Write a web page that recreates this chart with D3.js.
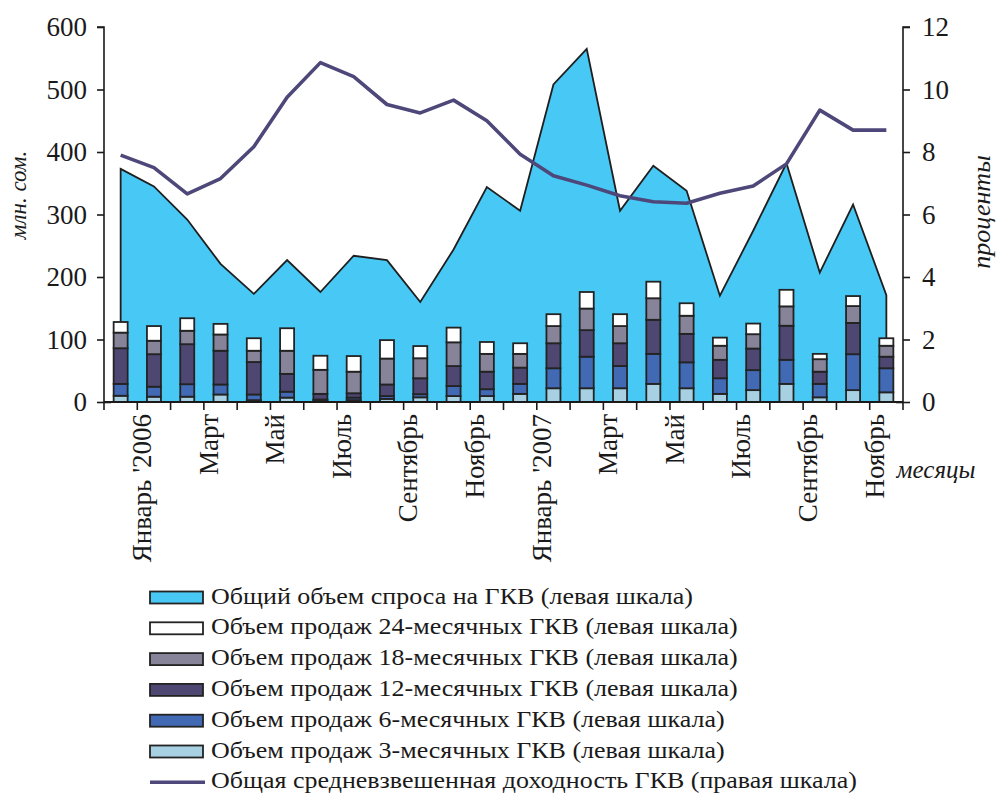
<!DOCTYPE html>
<html>
<head>
<meta charset="utf-8">
<script src="https://cdn.jsdelivr.net/npm/d3@7/dist/d3.min.js"></script>
<style>
  html, body { margin: 0; padding: 0; background: #fff; }
  svg { display: block; }
</style>
</head>
<body>
<svg id="chart" width="996" height="795"></svg>
<script>
const FONT = "'Liberation Serif', Tinos, 'Times New Roman', Times, 'DejaVu Serif', serif";

// Months Jan 2006 – Dec 2007
const months = [
  "2006-01","2006-02","2006-03","2006-04","2006-05","2006-06",
  "2006-07","2006-08","2006-09","2006-10","2006-11","2006-12",
  "2007-01","2007-02","2007-03","2007-04","2007-05","2007-06",
  "2007-07","2007-08","2007-09","2007-10","2007-11","2007-12"
];
// Labels shown every second month
const monthLabels = [
  "Январь '2006","Март","Май","Июль","Сентябрь","Ноябрь",
  "Январь '2007","Март","Май","Июль","Сентябрь","Ноябрь"
];

// Total demand for GKV, mln som (left scale)
const demandTotal = [373,345,292,221,173,227,176,234,227,160,244,344,
                     306,508,565,306,378,338,170,274,382,207,316,171];

// Sales volumes by maturity, mln som (left scale)
const sales3m  = [10,8.5,8.5,12,3,7,2.5,3,5,7.5,9.5,9.5,
                  13,22,22,22,29,22,13,19,29,7.5,19,15.5];
const sales6m  = [19,16,20,16,9,9.5,1.5,4,4.5,5,16,11,
                  16,32,50.5,35.5,48,41.5,25,32,38.5,21.5,57.5,38.5];
const sales12m = [57,52,64,54,52,28.5,9,7,18.5,25.5,32,28,
                  26,40,42.5,36.5,54.5,45.5,29.5,34.5,54.5,19.5,50,18.5];
const sales18m = [25,21.5,21.5,26,18,37,38.5,34.5,41.5,32,38,28.5,
                  22,27.5,34.5,27.5,34.5,29,22.5,23,31,20,27,17.5];
const sales24m = [17,23.5,20,17,20,36,22.5,25,29.5,19.5,23.5,19,
                  17,19,26.5,19,26.5,20,13,17,26.5,8.5,16,12];

// Weighted average yield, % (right scale)
const yieldAvg = [7.9,7.5,6.66,7.15,8.17,9.75,10.86,10.41,9.52,9.25,9.66,9.0,
                  7.93,7.24,6.94,6.6,6.41,6.36,6.68,6.91,7.62,9.34,8.7,8.7];

const leftTicks  = [0,100,200,300,400,500,600];
const rightTicks = [0,2,4,6,8,10,12];

const seriesKeys = ["m3","m6","m12","m18","m24"];
const seriesColors = {
  m3: "#a7d0e2", m6: "#4169b4", m12: "#4e4772", m18: "#878399", m24: "#ffffff"
};
const legendItems = [
  { type: "rect", color: "#48c8f4", label: "Общий объем спроса на ГКВ (левая шкала)" },
  { type: "rect", color: "#ffffff", label: "Объем продаж 24-месячных ГКВ (левая шкала)" },
  { type: "rect", color: "#878399", label: "Объем продаж 18-месячных ГКВ (левая шкала)" },
  { type: "rect", color: "#4e4772", label: "Объем продаж 12-месячных ГКВ (левая шкала)" },
  { type: "rect", color: "#4169b4", label: "Объем продаж 6-месячных ГКВ (левая шкала)" },
  { type: "rect", color: "#a7d0e2", label: "Объем продаж 3-месячных ГКВ (левая шкала)" },
  { type: "line", color: "#4d4879", label: "Общая средневзвешенная доходность ГКВ (правая шкала)" }
];

const svg = d3.select("#chart");
const plot = { left: 104, right: 903, top: 27, bottom: 402 };

const x = d3.scaleBand().domain(months).range([plot.left, plot.right]).padding(0);
const cx = m => x(m) + x.bandwidth() / 2;
const yL = d3.scaleLinear().domain([0, 600]).range([plot.bottom, plot.top]);
const yR = d3.scaleLinear().domain([0, 12]).range([plot.bottom, plot.top]);

const rows = months.map((m, i) => ({
  month: m, total: demandTotal[i], yld: yieldAvg[i],
  m3: sales3m[i], m6: sales6m[i], m12: sales12m[i], m18: sales18m[i], m24: sales24m[i]
}));

// Demand area
const area = d3.area()
  .x(d => cx(d.month))
  .y0(yL(0))
  .y1(d => yL(d.total));
svg.append("path")
  .datum(rows)
  .attr("d", area)
  .attr("fill", "#48c8f4")
  .attr("stroke", "#1f1f1f")
  .attr("stroke-width", 1.8)
  .attr("stroke-linejoin", "miter");

// Stacked sales bars
const stack = d3.stack().keys(seriesKeys)(rows);
const barW = 14;
svg.append("g").selectAll("g")
  .data(stack)
  .join("g")
  .attr("fill", d => seriesColors[d.key])
  .selectAll("rect")
  .data(d => d)
  .join("rect")
  .attr("x", d => cx(d.data.month) - barW / 2)
  .attr("width", barW)
  .attr("y", d => yL(d[1]))
  .attr("height", d => Math.max(0, yL(d[0]) - yL(d[1])))
  .attr("stroke", "#232323")
  .attr("stroke-width", 1.8);

// Yield line
const line = d3.line().x(d => cx(d.month)).y(d => yR(d.yld));
svg.append("path")
  .datum(rows)
  .attr("d", line)
  .attr("fill", "none")
  .attr("stroke", "#4d4879")
  .attr("stroke-width", 3.6)
  .attr("stroke-linejoin", "round");

// Axes
const axisColor = "#1a1a1a";
const leftAxis = d3.axisLeft(yL).tickValues(leftTicks).tickSize(7).tickPadding(10).tickFormat(d3.format("d"));
const gL = svg.append("g").attr("transform", `translate(${plot.left},0)`).call(leftAxis);
gL.select(".domain").attr("stroke", axisColor).attr("stroke-width", 1.6).attr("d", `M-7,${plot.top}H0V${plot.bottom}`);

const rightAxis = d3.axisRight(yR).tickValues(rightTicks).tickSize(7).tickPadding(12).tickFormat(d3.format("d"));
const gR = svg.append("g").attr("transform", `translate(${plot.right},0)`).call(rightAxis);
gR.select(".domain").attr("stroke", axisColor).attr("stroke-width", 1.6).attr("d", `M7,${plot.top}H0V${plot.bottom}`);

[gL, gR].forEach(g => {
  g.attr("font-family", null).attr("font-size", null);
  g.selectAll(".tick line").attr("stroke", axisColor).attr("stroke-width", 1.6);
  g.selectAll(".tick text").style("font-family", FONT).style("font-size", "27px").attr("fill", "#1a1a1a");
});
// zero tick crosses the axis on both sides
gL.select(".tick line").attr("x1", 7);
gR.select(".tick line").attr("x1", -7);

// Category axis: ticks at month boundaries
const gX = svg.append("g");
gX.append("line")
  .attr("x1", plot.left).attr("x2", plot.right)
  .attr("y1", plot.bottom).attr("y2", plot.bottom)
  .attr("stroke", axisColor).attr("stroke-width", 1.8);
const boundaries = months.map(m => x(m)).concat([plot.right]);
gX.selectAll("line.tk")
  .data(boundaries)
  .join("line")
  .attr("class", "tk")
  .attr("x1", d => d).attr("x2", d => d)
  .attr("y1", plot.bottom).attr("y2", plot.bottom + 8)
  .attr("stroke", axisColor).attr("stroke-width", 1.6);

gX.selectAll("text")
  .data(monthLabels)
  .join("text")
  .attr("transform", (d, i) => `translate(${cx(months[i * 2]) + 21},${plot.bottom + 12}) rotate(-90)`)
  .attr("text-anchor", "end")
  .attr("dy", "0.35em")
  .style("font-family", FONT).style("font-size", "27px")
  .attr("fill", "#1a1a1a")
  .text(d => d);

// Axis titles
svg.append("text")
  .attr("transform", "translate(18,195) rotate(-90)")
  .attr("text-anchor", "middle").attr("dy", "0.35em")
  .style("font-family", FONT).style("font-size", "23px").style("font-style", "italic")
  .attr("fill", "#1a1a1a")
  .text("млн. сом.");
svg.append("text")
  .attr("transform", "translate(981,212) rotate(-90)")
  .attr("text-anchor", "middle").attr("dy", "0.35em")
  .style("font-family", FONT).style("font-size", "26px").style("font-style", "italic")
  .attr("fill", "#1a1a1a")
  .text("проценты");
svg.append("text")
  .attr("x", 936).attr("y", 478)
  .attr("text-anchor", "middle")
  .style("font-family", FONT).style("font-size", "25px").style("font-style", "italic")
  .attr("fill", "#1a1a1a")
  .text("месяцы");

// Legend
const legend = svg.append("g");
const lg = legend.selectAll("g")
  .data(legendItems)
  .join("g")
  .attr("transform", (d, i) => `translate(150,${597.5 + i * 30.8})`);
lg.filter(d => d.type === "rect").append("rect")
  .attr("x", 0).attr("y", -6).attr("width", 53).attr("height", 12)
  .attr("fill", d => d.color)
  .attr("stroke", "#232323").attr("stroke-width", 1.8);
lg.filter(d => d.type === "line").append("line")
  .attr("x1", 0).attr("x2", 55).attr("y1", 0).attr("y2", 0)
  .attr("stroke", d => d.color).attr("stroke-width", 3.6);
lg.append("g")
  .attr("transform", "translate(61,6) scale(1.13,1)")
  .append("text")
  .attr("x", 0).attr("y", 0)
  .style("font-family", FONT).style("font-size", "23px")
  .attr("fill", "#1a1a1a")
  .text(d => d.label);
</script>
</body>
</html>
